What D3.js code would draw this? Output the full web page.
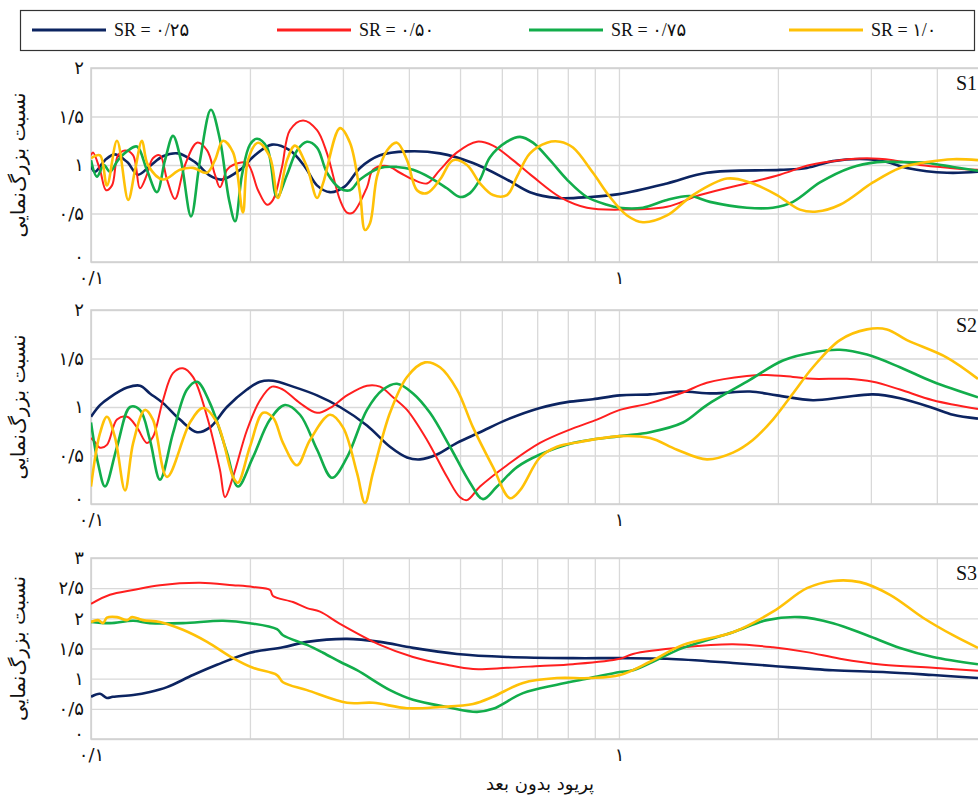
<!DOCTYPE html>
<html>
<head>
<meta charset="utf-8">
<script src="https://cdn.jsdelivr.net/npm/d3@7"></script>
<style>
  body { margin: 0; background: #fff; overflow: hidden; }
  svg { display: block; }
</style>
</head>
<body>
<svg id="chart" width="978" height="798"></svg>
<script>
// legend / series names
const srNames = ['SR = ۰/۲۵', 'SR = ۰/۵۰', 'SR = ۰/۷۵', 'SR = ۱/۰'];
const srColors = ['#0c2461', '#ff1f1f', '#12ad4b', '#ffc107'];
const srWidths = [2.6, 2, 2.6, 2.6];

const panelNames = ['S1', 'S2', 'S3'];

// tick labels (Persian digits)
const xTickValues = [0.1, 1];
const xTickLabels = ['۰/۱', '۱'];
const xGridValues = [0.1, 0.2, 0.3, 0.4, 0.5, 0.6, 0.7, 0.8, 0.9, 1, 2, 3, 4, 5];
const yTicksS12 = [0, 0.5, 1, 1.5, 2];
const yLabelsS12 = ['۰', '۰/۵', '۱', '۱/۵', '۲'];
const yTicksS3 = [0, 0.5, 1, 1.5, 2, 2.5, 3];
const yLabelsS3 = ['۰', '۰/۵', '۱', '۱/۵', '۲', '۲/۵', '۳'];
const yTitle = 'نسبت بزرگ‌نمایی';
const xTitle = 'پریود بدون بعد';

// [dimensionless period, amplification ratio]
const S1_SR025 = [[0.1,0.99],[0.1017,0.93],[0.1063,1.05],[0.1110,1.11],[0.1171,1.03],[0.1227,0.90],[0.1293,0.99],[0.1369,1.09],[0.1461,1.12],[0.1574,1.03],[0.1680,0.89],[0.1770,0.85],[0.1915,0.95],[0.2044,1.10],[0.2202,1.21],[0.2382,1.15],[0.2543,0.98],[0.2679,0.79],[0.2836,0.72],[0.3027,0.78],[0.3232,0.97],[0.3527,1.10],[0.3967,1.14],[0.4581,1.12],[0.5291,1.02],[0.6136,0.85],[0.6783,0.72],[0.7630,0.66],[0.8812,0.67],[1.0,0.70],[1.233,0.81],[1.467,0.92],[2.018,0.95],[2.270,0.97],[2.543,1.04],[2.949,1.06],[3.218,1.03],[3.511,0.97],[4.180,0.92],[4.786,0.93]];
const S1_SR050 = [[0.1,1.10],[0.1009,1.13],[0.1040,0.95],[0.1068,0.74],[0.1096,0.79],[0.1125,1.10],[0.1160,1.15],[0.1202,1.10],[0.1238,0.76],[0.1276,0.90],[0.1310,1.07],[0.1351,1.10],[0.1393,0.85],[0.1442,0.65],[0.1507,1.00],[0.1588,1.23],[0.1659,1.15],[0.1717,0.90],[0.1755,0.77],[0.1809,0.95],[0.1858,1.00],[0.1974,1.02],[0.2072,0.74],[0.2155,0.59],[0.2212,0.64],[0.2300,0.98],[0.2382,1.36],[0.2521,1.46],[0.2680,1.36],[0.2799,1.12],[0.2962,0.64],[0.3054,0.51],[0.3135,0.51],[0.3332,0.77],[0.3420,0.95],[0.3636,0.99],[0.3848,0.92],[0.4073,0.85],[0.4329,0.81],[0.4581,0.95],[0.4934,1.13],[0.5384,1.24],[0.5773,1.20],[0.6299,1.05],[0.6872,0.88],[0.7732,0.67],[0.8698,0.56],[1.0,0.54],[1.233,0.57],[1.423,0.69],[1.770,0.82],[2.018,0.90],[2.300,1.00],[2.622,1.05],[2.949,1.07],[3.304,1.05],[3.717,1.00],[4.236,0.97],[4.786,0.95]];
const S1_SR075 = [[0.1,1.05],[0.1026,0.88],[0.1058,1.00],[0.1086,0.93],[0.1125,1.05],[0.1176,1.15],[0.1222,1.19],[0.1276,0.95],[0.1333,0.72],[0.1381,1.05],[0.1430,1.30],[0.1480,1.05],[0.1547,0.47],[0.1609,1.05],[0.1687,1.57],[0.1755,1.26],[0.1826,0.64],[0.1875,0.42],[0.1932,0.90],[0.2000,1.21],[0.2063,1.27],[0.2155,1.18],[0.2250,0.67],[0.2351,0.90],[0.2456,1.15],[0.2565,1.24],[0.2680,1.18],[0.2799,0.92],[0.2962,0.76],[0.3094,0.74],[0.3232,0.85],[0.3527,0.97],[0.3798,0.98],[0.4073,0.95],[0.4386,0.87],[0.4723,0.76],[0.4999,0.67],[0.5222,0.71],[0.5455,0.85],[0.5698,1.08],[0.6136,1.24],[0.6494,1.29],[0.6872,1.23],[0.7401,1.05],[0.7971,0.85],[0.8698,0.67],[0.9491,0.59],[1.0,0.56],[1.110,0.56],[1.233,0.64],[1.363,0.68],[1.487,0.62],[1.747,0.56],[1.957,0.56],[2.136,0.62],[2.403,0.82],[2.739,0.97],[3.081,1.03],[3.406,1.03],[3.832,1.02],[4.292,0.98],[4.786,0.94]];
const S1_SR100 = [[0.1,1.07],[0.1040,1.10],[0.1072,0.79],[0.1120,1.25],[0.1176,0.64],[0.1212,0.95],[0.1249,1.25],[0.1282,1.00],[0.1369,0.85],[0.1474,0.95],[0.1560,0.97],[0.1659,0.92],[0.1717,1.05],[0.1778,1.25],[0.1858,1.13],[0.1940,0.51],[0.1983,1.05],[0.2072,1.23],[0.2183,1.08],[0.2260,0.66],[0.2351,1.05],[0.2434,1.20],[0.2565,0.98],[0.2680,0.66],[0.2751,0.81],[0.2962,1.38],[0.3094,1.23],[0.3232,0.71],[0.3303,0.33],[0.3376,0.40],[0.3481,0.88],[0.3636,1.15],[0.3798,1.23],[0.3968,1.05],[0.4144,0.74],[0.4329,0.71],[0.4581,0.85],[0.4849,1.05],[0.5154,1.00],[0.5455,0.81],[0.5773,0.69],[0.6136,0.69],[0.6410,0.88],[0.6783,1.12],[0.7306,1.23],[0.7732,1.24],[0.8182,1.18],[0.8928,0.92],[0.9616,0.67],[1.036,0.48],[1.110,0.41],[1.233,0.48],[1.381,0.69],[1.602,0.86],[1.770,0.82],[1.992,0.69],[2.202,0.54],[2.371,0.52],[2.622,0.59],[3.027,0.82],[3.406,0.97],[3.832,1.03],[4.292,1.06],[4.786,1.05]];

const S2_SR025 = [[0.1,0.90],[0.1040,1.02],[0.1086,1.10],[0.1171,1.20],[0.1238,1.22],[0.1293,1.14],[0.1369,1.04],[0.1474,0.87],[0.1588,0.74],[0.1680,0.79],[0.1809,1.00],[0.1974,1.18],[0.2090,1.26],[0.2212,1.27],[0.2413,1.21],[0.2680,1.12],[0.2962,1.00],[0.3332,0.81],[0.3684,0.59],[0.3968,0.48],[0.4199,0.46],[0.4521,0.51],[0.4934,0.63],[0.5455,0.74],[0.6136,0.87],[0.7086,0.99],[0.7971,1.05],[0.8928,1.08],[1.004,1.12],[1.145,1.13],[1.305,1.16],[1.507,1.14],[1.770,1.16],[1.992,1.12],[2.330,1.07],[2.657,1.10],[3.027,1.13],[3.406,1.09],[3.933,0.99],[4.292,0.92],[4.786,0.88]];
const S2_SR050 = [[0.1,0.68],[0.1017,0.64],[0.1040,0.58],[0.1072,0.61],[0.1120,0.87],[0.1171,0.90],[0.1222,0.79],[0.1276,0.63],[0.1310,0.69],[0.1369,1.07],[0.1430,1.35],[0.1493,1.40],[0.1560,1.31],[0.1659,0.90],[0.1755,0.35],[0.1794,0.07],[0.1858,0.28],[0.1974,0.76],[0.2090,1.07],[0.2202,1.21],[0.2310,1.18],[0.2488,1.04],[0.2680,0.94],[0.2836,0.99],[0.3054,1.12],[0.3332,1.22],[0.3527,1.21],[0.3733,1.10],[0.3968,0.97],[0.4329,0.66],[0.4723,0.28],[0.4999,0.07],[0.5154,0.04],[0.5455,0.18],[0.6136,0.40],[0.7086,0.63],[0.8182,0.78],[0.9084,0.87],[1.004,0.97],[1.145,1.04],[1.322,1.15],[1.467,1.25],[1.747,1.32],[1.906,1.33],[2.136,1.31],[2.330,1.29],[2.703,1.29],[3.027,1.26],[3.406,1.18],[3.933,1.07],[4.786,0.98]];
const S2_SR075 = [[0.1,0.84],[0.1031,0.42],[0.1063,0.18],[0.1120,0.59],[0.1186,1.00],[0.1238,0.97],[0.1293,0.66],[0.1351,0.25],[0.1430,0.73],[0.1520,1.18],[0.1588,1.26],[0.1680,1.04],[0.1809,0.53],[0.1898,0.18],[0.2026,0.48],[0.2183,0.87],[0.2330,1.02],[0.2488,0.92],[0.2680,0.56],[0.2861,0.27],[0.3054,0.48],[0.3332,0.97],[0.3573,1.18],[0.3798,1.24],[0.4073,1.14],[0.4386,0.94],[0.4786,0.59],[0.5222,0.22],[0.5527,0.05],[0.5875,0.18],[0.6410,0.38],[0.7086,0.51],[0.8182,0.63],[1.004,0.70],[1.145,0.74],[1.322,0.84],[1.467,1.02],[1.770,1.28],[2.045,1.48],[2.371,1.57],[2.622,1.59],[2.949,1.54],[3.406,1.41],[3.933,1.26],[4.786,1.10]];
const S2_SR100 = [[0.1,0.18],[0.1040,0.73],[0.1072,0.90],[0.1110,0.69],[0.1160,0.14],[0.1202,0.63],[0.1265,0.97],[0.1310,0.87],[0.1393,0.28],[0.1540,0.84],[0.1630,0.99],[0.1732,0.84],[0.1858,0.28],[0.1898,0.22],[0.2000,0.59],[0.2118,0.94],[0.2212,0.89],[0.2310,0.63],[0.2456,0.40],[0.2599,0.66],[0.2836,0.92],[0.3001,0.79],[0.3190,0.32],[0.3303,0.01],[0.3420,0.32],[0.3684,0.94],[0.3968,1.31],[0.4292,1.46],[0.4581,1.41],[0.4934,1.18],[0.5291,0.79],[0.5773,0.38],[0.6217,0.06],[0.6494,0.14],[0.7086,0.48],[0.7632,0.59],[0.8436,0.64],[1.004,0.70],[1.145,0.68],[1.288,0.56],[1.467,0.46],[1.644,0.53],[1.793,0.66],[1.957,0.87],[2.136,1.14],[2.330,1.41],[2.622,1.69],[2.949,1.80],[3.218,1.80],[3.511,1.69],[4.180,1.51],[4.786,1.29]];

const S3_SR025 = [[0.1,0.70],[0.1040,0.75],[0.1072,0.68],[0.1100,0.70],[0.1202,0.73],[0.1293,0.78],[0.1393,0.86],[0.1560,1.06],[0.1732,1.23],[0.2000,1.43],[0.2310,1.52],[0.2565,1.61],[0.3054,1.66],[0.3527,1.61],[0.4073,1.51],[0.4934,1.41],[0.6136,1.36],[0.8182,1.34],[1.004,1.34],[1.233,1.33],[1.644,1.26],[1.957,1.21],[2.543,1.14],[3.163,1.11],[3.933,1.06],[4.786,1.01]];
const S3_SR050 = [[0.1,2.24],[0.1086,2.39],[0.1202,2.47],[0.1351,2.55],[0.1609,2.59],[0.1858,2.55],[0.2026,2.52],[0.2183,2.47],[0.2212,2.37],[0.2413,2.27],[0.2565,2.17],[0.2715,2.11],[0.2962,1.91],[0.3527,1.56],[0.4073,1.36],[0.4723,1.23],[0.5291,1.16],[0.6136,1.18],[0.7086,1.21],[0.8182,1.24],[1.004,1.33],[1.063,1.41],[1.322,1.52],[1.644,1.57],[1.957,1.52],[2.270,1.44],[2.622,1.33],[3.163,1.23],[3.933,1.18],[4.786,1.13]];
const S3_SR075 = [[0.1,1.94],[0.1086,1.92],[0.1202,1.96],[0.1293,1.92],[0.1493,1.92],[0.1778,1.96],[0.2000,1.92],[0.2250,1.82],[0.2310,1.72],[0.2565,1.56],[0.2751,1.43],[0.2962,1.28],[0.3190,1.14],[0.3684,0.81],[0.4073,0.65],[0.4723,0.53],[0.5384,0.45],[0.5773,0.50],[0.6580,0.76],[0.7632,0.90],[0.8812,1.01],[1.004,1.11],[1.063,1.14],[1.322,1.51],[1.644,1.77],[1.906,1.97],[2.202,2.02],[2.543,1.92],[2.949,1.72],[3.406,1.51],[3.933,1.36],[4.786,1.24]];
const S3_SR100 = [[0.1,1.94],[0.1031,1.97],[0.1054,1.92],[0.1072,2.01],[0.1120,2.02],[0.1171,1.97],[0.1196,2.02],[0.1254,1.97],[0.1351,1.94],[0.1493,1.81],[0.1659,1.61],[0.1858,1.34],[0.2026,1.18],[0.2250,1.06],[0.2310,0.94],[0.2565,0.81],[0.3054,0.60],[0.3420,0.60],[0.3968,0.51],[0.4581,0.53],[0.5291,0.58],[0.5773,0.70],[0.6580,0.93],[0.7632,1.01],[0.8812,1.01],[1.004,1.06],[1.145,1.28],[1.322,1.56],[1.644,1.77],[1.957,2.11],[2.270,2.50],[2.543,2.62],[2.861,2.60],[3.261,2.39],[3.766,2.01],[4.292,1.72],[4.786,1.51]];

const panelSeries = [
  [S1_SR025, S1_SR050, S1_SR075, S1_SR100],
  [S2_SR025, S2_SR050, S2_SR075, S2_SR100],
  [S3_SR025, S3_SR050, S3_SR075, S3_SR100],
];

// layout
const plotLeft = 91, plotRight = 988;
const panels = [
  { top: 68, bottom: 262, yTicks: yTicksS12, yLabels: yLabelsS12 },
  { top: 310, bottom: 504, yTicks: yTicksS12, yLabels: yLabelsS12 },
  { top: 558, bottom: 739, yTicks: yTicksS3, yLabels: yLabelsS3 },
];
const faFont = '"DejaVu Sans", sans-serif';
const gridColor = '#d9d9d9';

const svg = d3.select('#chart');
const x = d3.scaleLog().domain([0.1, 5]).range([plotLeft, plotRight]);

// legend
const legend = svg.append('g');
legend.append('rect')
  .attr('x', 20.5).attr('y', 10.5).attr('width', 954).attr('height', 40)
  .attr('fill', '#fff').attr('stroke', '#333').attr('stroke-width', 1.2);
const legendX = [32, 277, 529, 789];
srNames.forEach((name, i) => {
  legend.append('line')
    .attr('x1', legendX[i]).attr('x2', legendX[i] + 74)
    .attr('y1', 30).attr('y2', 30)
    .attr('stroke', srColors[i]).attr('stroke-width', 3);
  legend.append('text')
    .attr('x', legendX[i] + 82).attr('y', 36)
    .attr('font-family', '"Liberation Serif", "DejaVu Sans", serif')
    .attr('font-size', 18).attr('fill', '#111')
    .text(name);
});

panels.forEach((p, pi) => {
  const yMax = p.yTicks[p.yTicks.length - 1];
  const y = d3.scaleLinear().domain([0, yMax]).range([p.bottom, p.top]);
  const g = svg.append('g');
  const plotW = plotRight - plotLeft;

  // horizontal grid
  g.append('g')
    .attr('transform', `translate(${plotLeft},0)`)
    .call(d3.axisLeft(y).tickValues(p.yTicks).tickSize(-plotW).tickFormat(''))
    .call((s) => s.select('.domain').remove())
    .call((s) => s.selectAll('line').attr('stroke', gridColor).attr('stroke-width', 1.3));

  // vertical grid
  g.append('g')
    .attr('transform', `translate(0,${p.bottom})`)
    .call(d3.axisBottom(x).tickValues(xGridValues).tickSize(-(p.bottom - p.top)).tickFormat(''))
    .call((s) => s.select('.domain').remove())
    .call((s) => s.selectAll('line').attr('stroke', gridColor).attr('stroke-width', 1.3));

  g.append('rect')
    .attr('x', plotLeft).attr('y', p.top)
    .attr('width', plotW).attr('height', p.bottom - p.top)
    .attr('fill', 'none').attr('stroke', '#cfcfcf').attr('stroke-width', 1.5);

  // y tick labels
  g.append('g')
    .attr('transform', `translate(${plotLeft},0)`)
    .call(d3.axisLeft(y).tickValues(p.yTicks).tickSize(0).tickPadding(7)
      .tickFormat((d, i) => p.yLabels[i]))
    .call((s) => s.select('.domain').remove())
    .call((s) => s.selectAll('text')
      .attr('font-family', faFont).attr('font-size', 18).attr('fill', '#111')
      .attr('dy', (d) => (d === 0 ? '0.05em' : '0.32em')));

  // x tick labels
  g.append('g')
    .attr('transform', `translate(0,${p.bottom})`)
    .call(d3.axisBottom(x).tickValues(xTickValues).tickSize(0).tickPadding(9)
      .tickFormat((d, i) => xTickLabels[i]))
    .call((s) => s.select('.domain').remove())
    .call((s) => s.selectAll('text')
      .attr('font-family', faFont).attr('font-size', 18).attr('fill', '#111'));

  // y title
  g.append('text')
    .attr('transform', `translate(25,${(p.top + p.bottom) / 2}) rotate(-90)`)
    .attr('text-anchor', 'middle')
    .attr('font-family', faFont).attr('font-size', 20).attr('fill', '#111')
    .text(yTitle);

  // series
  const clipId = `clip-${pi}`;
  svg.append('clipPath').attr('id', clipId)
    .append('rect').attr('x', plotLeft).attr('y', p.top - 2)
    .attr('width', plotW).attr('height', p.bottom - p.top + 2);

  const line = d3.line()
    .x((d) => x(d[0]))
    .y((d) => y(d[1]))
    .curve(d3.curveCatmullRom.alpha(0.5));

  g.append('g').attr('clip-path', `url(#${clipId})`)
    .selectAll('path')
    .data(panelSeries[pi])
    .join('path')
    .attr('fill', 'none')
    .attr('stroke', (d, i) => srColors[i])
    .attr('stroke-width', (d, i) => srWidths[i])
    .attr('stroke-linejoin', 'round')
    .attr('d', line);

  g.append('text')
    .attr('x', 956).attr('y', p.top + 22)
    .attr('font-family', '"Liberation Serif", serif')
    .attr('font-size', 20).attr('fill', '#111')
    .text(panelNames[pi]);
});

svg.append('text')
  .attr('x', 540).attr('y', 790)
  .attr('text-anchor', 'middle')
  .attr('font-family', faFont).attr('font-size', 18).attr('fill', '#111')
  .text(xTitle);
</script>
</body>
</html>
